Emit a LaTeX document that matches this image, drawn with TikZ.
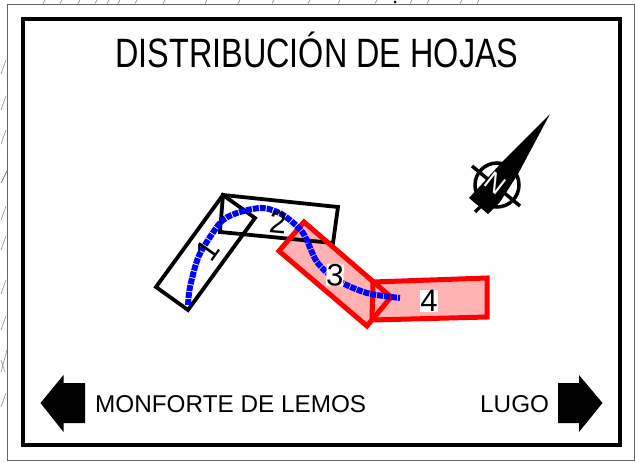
\documentclass[tikz,border=0pt]{standalone}
\usepackage{fontspec}
\setmainfont{Liberation Sans}
\tikzset{
	frameline/.style = {draw = black, line width = 4pt, line join = miter},
	hatchline/.style = {draw = black!45, line width = .6pt},
	sheetblack/.style = {draw = black, line width = 3.8pt, line join = miter},
	sheetred/.style = {draw = red, line width = 5pt, line join = miter},
	sheetfill/.style = {fill = red!30},
	roadarrow/.style = {fill = black},
	sheetnum/.style = {font = \fontsize{31}{31}\selectfont, inner sep = 0pt},
	placelabel/.style = {font = \fontsize{24.3}{24.3}\selectfont, inner sep = 0pt, anchor = base west}
}
\begin{document}
\begin{tikzpicture}[x = 1pt, y = -1pt]
	\useasboundingbox (0,0) rectangle (635,461);
	\foreach \hx in {43,60,78,95,107,118,135,163,205,238,272,308,338,375,410,427,460,477}
		\draw[hatchline] (\hx,3.5)--(\hx+2,0);
	\foreach \hy in {67,103,137,213,243,287,323,400}
		\draw[hatchline] (1,\hy+7)--(6,\hy-7);
	\draw[hatchline, draw = black!70] (1,183)--(7,171);
	\draw[hatchline] (1,372)--(7,350) (1,360)--(5,372);
	\fill (395,2) circle (1.5);
	\draw[line width = .9pt, draw = black!60] (7.5,4) rectangle (634,460);
	\draw[frameline] (22.5,18.5) rectangle (620,445);
	\node[font = \fontsize{41}{41}\selectfont, xscale = .79, inner sep = 0pt, anchor = base] (title) at (317,67) {DISTRIBUCIÓN DE HOJAS};
	\draw[line width = 3.5pt] (497,185) circle (22);
	\draw[line width = 3.5pt] (472,166)--(520,206);
	\fill (550,114)--(518,174)--(500,202)--(488,214)--(469,198)--(482,184)--(503,161)--cycle;
	\draw[line width = 3.5pt] (475,212)--(486,201);
	\node[font = \fontsize{26}{26}\selectfont, text = white, rotate = -38, inner sep = 0pt] (north) at (495,183) {N};
	\fill[sheetfill] (304,222)--(391,297)--(367,326)--(279,251)--cycle;
	\fill[sheetfill] (373,282)--(487,278)--(487,317)--(372,320)--cycle;
	\draw[sheetblack] (223,195)--(255,218)--(188,310)--(156,287)--cycle;
	\draw[sheetblack] (223,195)--(338,207)--(333,243)--(220,232)--cycle;
	\draw[sheetred] (304,222)--(391,297)--(367,326)--(279,251)--cycle;
	\draw[sheetred] (373,282)--(487,278)--(487,317)--(372,320)--cycle;
	\draw[blue, line width = 6pt, dash pattern = on 6pt off 1pt, smooth] plot coordinates {(188,305) (190,287) (198,258) (210,237) (223,220) (240,212) (263,208) (283,215) (303,233) (317,262) (337,280) (367,293) (400,298)};
	\node[sheetnum, rotate = 55] (one) at (208,250) {1};
	\node[sheetnum, rotate = -5] (two) at (278,222) {2};
	\node[sheetnum, fill = white, rotate = -3] (three) at (335,275) {3};
	\node[sheetnum, fill = white] (four) at (429,301) {4};
	\node[placelabel] (monforte) at (95,412) {MONFORTE DE LEMOS};
	\node[placelabel] (lugo) at (480,412) {LUGO};
	\fill[roadarrow] (40.5,403)--(63.5,375)--(63.5,383)--(85,383)--(85,423)--(63.5,423)--(63.5,432)--cycle;
	\fill[roadarrow] (602.5,403)--(579,375)--(579,383)--(558,383)--(558,423)--(579,423)--(579,432)--cycle;
\end{tikzpicture}
\end{document}
